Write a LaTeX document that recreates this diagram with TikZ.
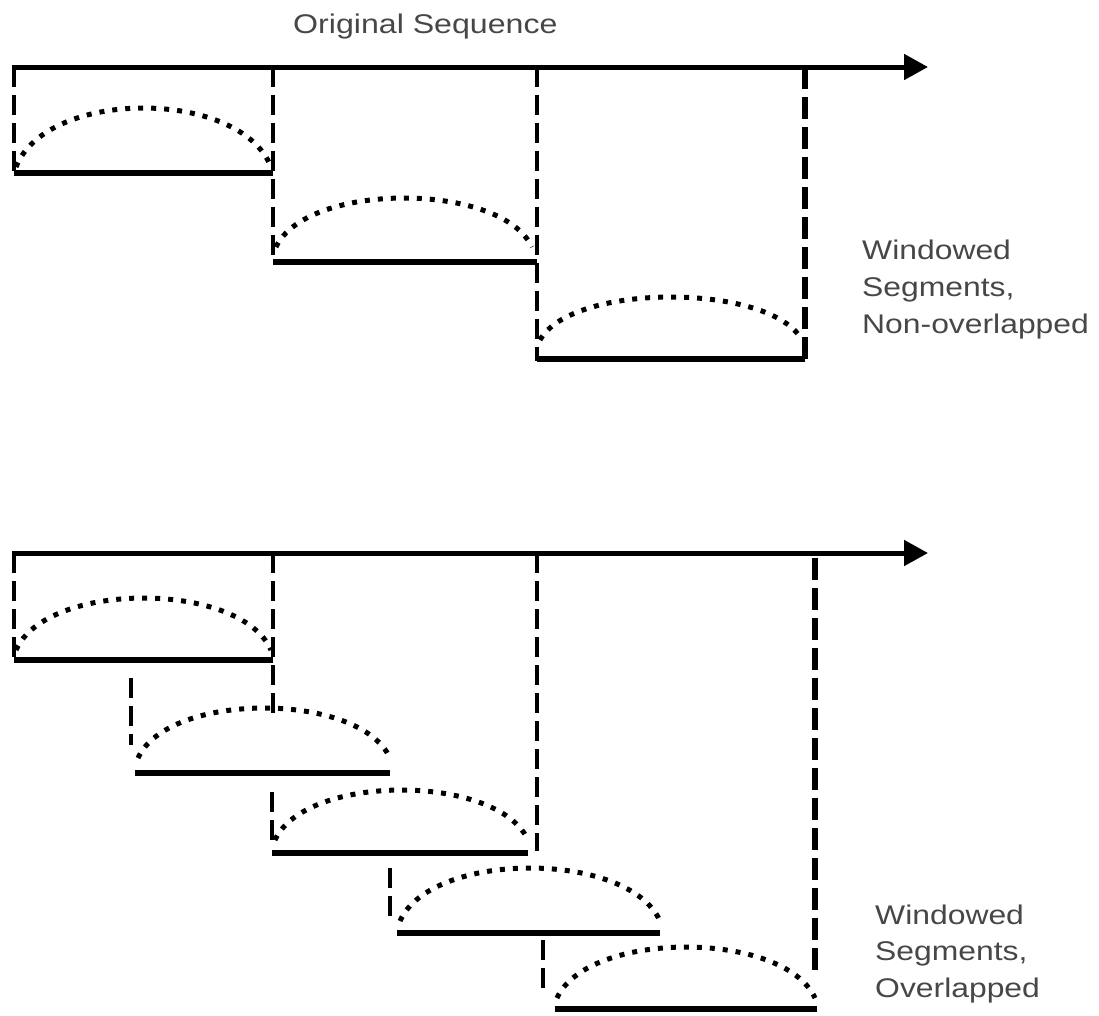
\documentclass[tikz,border=0pt]{standalone}
\usepackage{fontspec}
\setmainfont{Liberation Sans}
\usetikzlibrary{arrows.meta}
\tikzset{
  axisline/.style={line width=5pt,-{Triangle[length=24pt,width=25pt]}},
  baseline/.style={line width=6pt},
  vdash/.style={line width=4.5pt,dash pattern=on 20pt off 8pt},
  vdashthick/.style={line width=6.5pt,dash pattern=on 22pt off 8pt},
  wincurve/.style={line width=5pt,dash pattern=on 5pt off 8pt},
  lbl/.style={anchor=base west,inner sep=0pt,text=black!72,font=\fontsize{27}{31}\selectfont}
}
% \wseg{x0}{x1}{y of arc ends}{peak y}
\newcommand{\wseg}[4]{%
  \pgfmathsetmacro{\wsw}{#2-#1}%
  \pgfmathsetmacro{\wsc}{#3-1.333*(#3-#4)}%
  \draw[wincurve] (#1,#3) .. controls ({#1+0.12*\wsw},\wsc) and ({#2-0.12*\wsw},\wsc) .. (#2,#3);%
}
\begin{document}
\begin{tikzpicture}[x=1pt,y=-1pt]
\useasboundingbox (0,0) rectangle (1099,1015);
\fill[white] (0,0) rectangle (1099,1015);

% ---------- top: non-overlapped ----------
\node[lbl] (title) at (293,33) {\scalebox{1.19}[1]{Original Sequence}};
\coordinate (a0) at (12,67);
\coordinate (a1) at (928,67);
\draw[axisline] (a0) -- (a1);

\draw[vdash] (14,67) -- (14,172);
\draw[vdash] (273,67) -- (273,262);
\draw[vdash] (537,67) -- (537,361);
\draw[vdashthick] (805,67) -- (805,361);

\draw[baseline] (14,173) -- (273,173);
\draw[baseline] (273,262) -- (537,262);
\draw[baseline] (537,359) -- (805,359);

\wseg{16}{271}{167}{108}
\wseg{276}{532}{247}{198}
\wseg{540}{802}{340}{297}

\node[lbl] (t1) at (862,259) {\scalebox{1.18}[1]{Windowed}};
\node[lbl] (t2) at (862,296) {\scalebox{1.18}[1]{Segments,}};
\node[lbl] (t3) at (862,333) {\scalebox{1.18}[1]{Non-overlapped}};

% ---------- bottom: overlapped ----------
\coordinate (b0) at (12,553);
\coordinate (b1) at (928,553);
\draw[axisline] (b0) -- (b1);

\draw[vdash] (14,553) -- (14,659);
\draw[vdash] (273,553) -- (273,714);
\draw[vdash] (537,553) -- (537,851);
\draw[vdashthick] (815,558) -- (815,970);

\draw[vdash] (131,678) -- (131,745);
\draw[vdash] (272,792) -- (272,842);
\draw[vdash] (390,868) -- (390,920);
\draw[vdash] (543,940) -- (543,988);

\draw[baseline] (14,660) -- (273,660);
\draw[baseline] (135,773) -- (390,773);
\draw[baseline] (272,853) -- (528,853);
\draw[baseline] (397,933) -- (660,933);
\draw[baseline] (555,1009) -- (817,1009);

\wseg{16}{271}{650}{598}
\wseg{138}{390}{758}{708}
\wseg{275}{528}{840}{790}
\wseg{400}{660}{921}{868}
\wseg{557}{815}{998}{947}

\node[lbl] (u1) at (875,924) {\scalebox{1.18}[1]{Windowed}};
\node[lbl] (u2) at (875,960) {\scalebox{1.18}[1]{Segments,}};
\node[lbl] (u3) at (875,997) {\scalebox{1.18}[1]{Overlapped}};
\end{tikzpicture}
\end{document}
